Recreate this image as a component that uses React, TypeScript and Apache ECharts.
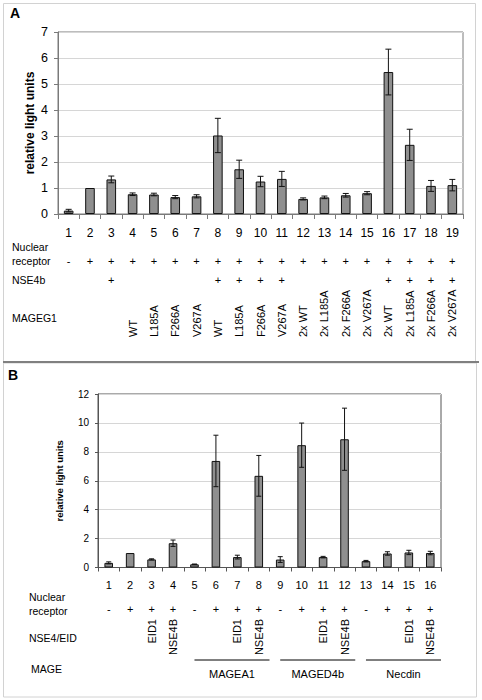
import React, { useEffect, useRef } from 'react';
import * as echarts from 'echarts';

// ---------- Panel A data ----------
const catsA = ['1','2','3','4','5','6','7','8','9','10','11','12','13','14','15','16','17','18','19'];
const valuesA = [0.13, 1.0, 1.33, 0.76, 0.75, 0.65, 0.68, 3.02, 1.72, 1.25, 1.35, 0.58, 0.64, 0.72, 0.8, 5.46, 2.66, 1.08, 1.11];
const errorsA = [0.05, 0, 0.13, 0.05, 0.05, 0.06, 0.06, 0.66, 0.35, 0.2, 0.29, 0.04, 0.05, 0.07, 0.06, 0.88, 0.6, 0.21, 0.22];
const nuclearA = ['-','+','+','+','+','+','+','+','+','+','+','+','+','+','+','+','+','+','+'];
const nse4bA = ['','','+','','','','','+','+','+','+','','','','','+','+','+','+'];
const mageg1A = ['','','','WT','L185A','F266A','V267A','WT','L185A','F266A','V267A','2x WT','2x L185A','2x F266A','2x V267A','2x WT','2x L185A','2x F266A','2x V267A'];
const yTicksA = { min: 0, max: 7, interval: 1 };

// ---------- Panel B data ----------
const catsB = ['1','2','3','4','5','6','7','8','9','10','11','12','13','14','15','16'];
const valuesB = [0.32, 1.0, 0.56, 1.68, 0.22, 7.37, 0.72, 6.34, 0.55, 8.46, 0.72, 8.87, 0.44, 0.97, 1.04, 1.0];
const errorsB = [0.07, 0, 0.04, 0.22, 0.02, 1.78, 0.13, 1.41, 0.2, 1.53, 0.05, 2.15, 0.05, 0.12, 0.15, 0.12];
const nuclearB = ['-','+','+','+','-','+','+','+','-','+','+','+','-','+','+','+'];
const nse4eidB = ['','','EID1','NSE4B','','','EID1','NSE4B','','','EID1','NSE4B','','','EID1','NSE4B'];
const mageGroupNames = ['MAGEA1', 'MAGED4b', 'Necdin'];
const mageGroupStart = [4, 8, 12];
const mageGroupEnd = [7, 11, 15];
const yTicksB = { min: 0, max: 12, interval: 2 };

const FONT = '"Liberation Sans", Arial, Helvetica, sans-serif';
const AXIS_GRAY = '#7a7a7a';

function rowAxis(gridIndex: number, cats: string[], row: string[], offset: number, extra: any = {}) {
  return {
    type: 'category',
    gridIndex,
    position: 'bottom',
    offset,
    data: cats,
    axisLine: { show: false, onZero: false },
    axisTick: { show: false },
    splitLine: { show: false },
    axisLabel: {
      interval: 0,
      margin: 0,
      fontSize: 11,
      fontFamily: FONT,
      color: '#000',
      verticalAlign: 'middle',
      formatter: (_v: string, i: number) => row[i],
      ...extra,
    },
  };
}

function errorRenderer(capHalf: number) {
  return (params: any, api: any) => {
    const x = api.value(0);
    const lo = api.value(1);
    const hi = api.value(2);
    if (!(hi - lo > 0)) return null;
    const top = api.coord([x, hi]);
    const bot = api.coord([x, lo]);
    const style = { stroke: '#111', lineWidth: 1 };
    return {
      type: 'group',
      children: [
        { type: 'line', shape: { x1: top[0], y1: top[1], x2: bot[0], y2: bot[1] }, style },
        { type: 'line', shape: { x1: top[0] - capHalf, y1: top[1], x2: top[0] + capHalf, y2: top[1] }, style },
        { type: 'line', shape: { x1: bot[0] - capHalf, y1: bot[1], x2: bot[0] + capHalf, y2: bot[1] }, style },
      ],
    };
  };
}

function text(x: number, y: number, t: string, size = 10, extra: any = {}) {
  return {
    type: 'text',
    x,
    y,
    style: { text: t, fill: '#000', fontSize: size, fontFamily: FONT, verticalAlign: 'middle', align: 'left', ...extra },
  };
}

export default function App() {
  const ref = useRef<HTMLDivElement>(null);

  useEffect(() => {
    const chart = echarts.init(ref.current!, null, { renderer: 'svg' });

    const option: any = {
      animation: false,
      backgroundColor: '#ffffff',
      grid: [
        { left: 58, top: 32, width: 405, height: 182, show: true, borderColor: AXIS_GRAY, borderWidth: 1, backgroundColor: 'transparent' },
        { left: 98, top: 394, width: 343, height: 173.5, show: true, borderColor: '#555', borderWidth: 1, backgroundColor: 'transparent' },
      ],
      xAxis: [
        {
          type: 'category', gridIndex: 0, position: 'bottom', data: catsA,
          axisLine: { onZero: false, lineStyle: { color: AXIS_GRAY } },
          axisTick: { show: true, length: 5, lineStyle: { color: AXIS_GRAY } },
          axisLabel: { interval: 0, margin: 13, fontSize: 12, fontFamily: FONT, color: '#000' },
        },
        rowAxis(0, catsA, nuclearA, 46.5),
        rowAxis(0, catsA, nse4bA, 66),
        rowAxis(0, catsA, mageg1A, 123, { rotate: 90, align: 'left', verticalAlign: 'middle' }),
        {
          type: 'category', gridIndex: 1, position: 'bottom', data: catsB,
          axisLine: { onZero: false, lineStyle: { color: '#555' } },
          axisTick: { show: true, length: 4, lineStyle: { color: '#555' } },
          axisLabel: { interval: 0, margin: 12, fontSize: 11, fontFamily: FONT, color: '#000' },
        },
        rowAxis(1, catsB, nuclearB, 41.5),
        rowAxis(1, catsB, nse4eidB, 51.5, { rotate: 90, align: 'right', verticalAlign: 'middle' }),
      ],
      yAxis: [
        {
          type: 'value', gridIndex: 0, ...yTicksA,
          name: 'relative light units', nameLocation: 'middle', nameGap: 22, nameMoveOverlap: false,
          nameTextStyle: { fontSize: 12, fontWeight: 'bold', fontFamily: FONT, color: '#000' },
          axisLine: { show: true, lineStyle: { color: AXIS_GRAY } },
          axisTick: { show: true, length: 4, lineStyle: { color: AXIS_GRAY } },
          axisLabel: { margin: 10, fontSize: 12.5, fontFamily: FONT, color: '#000' },
          splitLine: { show: true, lineStyle: { color: '#d6d6d6', width: 1 } },
        },
        {
          type: 'value', gridIndex: 1, ...yTicksB,
          name: 'relative light units', nameLocation: 'middle', nameGap: 34, nameMoveOverlap: false,
          nameTextStyle: { fontSize: 9.5, fontWeight: 'bold', fontFamily: FONT, color: '#000' },
          axisLine: { show: true, lineStyle: { color: '#555' } },
          axisTick: { show: true, length: 3, lineStyle: { color: '#555' } },
          axisLabel: { margin: 9, fontSize: 10, fontFamily: FONT, color: '#000' },
          splitLine: { show: true, lineStyle: { color: '#d6d6d6', width: 1 } },
        },
      ],
      series: [
        {
          type: 'bar', xAxisIndex: 0, yAxisIndex: 0, data: valuesA, barWidth: '45%',
          itemStyle: { color: '#8f8f8f', borderColor: '#111', borderWidth: 1 },
        },
        {
          type: 'custom', xAxisIndex: 0, yAxisIndex: 0, z: 5,
          data: valuesA.map((v, i) => [i, v - errorsA[i], v + errorsA[i]]),
          encode: { x: 0, y: [1, 2] },
          renderItem: errorRenderer(3),
        },
        {
          type: 'bar', xAxisIndex: 4, yAxisIndex: 1, data: valuesB, barWidth: '40%',
          itemStyle: { color: '#8f8f8f', borderColor: '#111', borderWidth: 1 },
        },
        {
          type: 'custom', xAxisIndex: 4, yAxisIndex: 1, z: 5,
          data: valuesB.map((v, i) => [i, v - errorsB[i], v + errorsB[i]]),
          encode: { x: 0, y: [1, 2] },
          renderItem: errorRenderer(2.5),
        },
        {
          type: 'custom', xAxisIndex: 4, yAxisIndex: 1, clip: false, silent: true,
          data: mageGroupNames.map((_n, i) => [mageGroupStart[i], mageGroupEnd[i], 0]),
          encode: { x: [0, 1], y: 2 },
          renderItem: (params: any, api: any) => {
            const s = api.coord([api.value(0), 0]);
            const e = api.coord([api.value(1), 0]);
            const bw = api.size([1, 0])[0];
            const x1 = s[0];
            const x2 = e[0] + bw / 2;
            const y = s[1] + 92.5;
            return {
              type: 'group',
              children: [
                { type: 'line', shape: { x1, y1: y, x2, y2: y }, style: { stroke: '#000', lineWidth: 1 } },
                {
                  type: 'text', x: (x1 + x2) / 2, y: y + 14,
                  style: { text: mageGroupNames[params.dataIndex], fill: '#000', fontSize: 11, fontFamily: FONT, align: 'center', verticalAlign: 'middle' },
                },
              ],
            };
          },
        },
      ],
      graphic: [
        { type: 'rect', shape: { x: 3.5, y: 3.5, width: 472, height: 358 }, style: { fill: 'none', stroke: '#d2d2d2', lineWidth: 1 } },
        { type: 'rect', shape: { x: 3.5, y: 363, width: 473, height: 334 }, style: { fill: 'none', stroke: '#d2d2d2', lineWidth: 1 } },
        { type: 'line', shape: { x1: 3, y1: 362, x2: 479, y2: 362 }, style: { stroke: '#808080', lineWidth: 2 } },
        text(10, 13, 'A', 14, { fontWeight: 'bold' }),
        text(8, 375, 'B', 14, { fontWeight: 'bold' }),
        text(12, 247, 'Nuclear', 10.5),
        text(12, 260.5, 'receptor', 10.5),
        text(12, 280, 'NSE4b', 10.5),
        text(12, 318, 'MAGEG1', 10.5),
        text(29, 597, 'Nuclear', 10.5),
        text(29, 611, 'receptor', 10.5),
        text(29, 638, 'NSE4/EID', 10.5),
        text(31, 669, 'MAGE', 10.5),
      ],
    };

    chart.setOption(option);
    return () => chart.dispose();
  }, []);

  return (
    <div
      ref={ref}
      style={{ position: 'absolute', left: 0, top: 0, width: 482, height: 700, background: '#fff' }}
    />
  );
}
